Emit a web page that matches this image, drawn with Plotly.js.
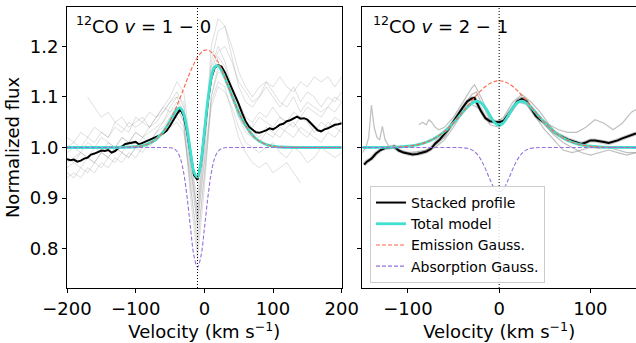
<!DOCTYPE html>
<html>
<head>
<meta charset="utf-8">
<script src="https://cdn.plot.ly/plotly-3.0.1.min.js"></script>
<style>html,body{margin:0;padding:0;background:#fff;}#chart{width:636px;height:343px;}</style>
</head>
<body>
<div id="chart"></div>
<script>
// ---------- Left panel: 12CO v=1-0 ----------
const vSysLeft = -10;
const vModelLeft = [-200,-100,-90,-80,-75,-70,-65,-60,-55,-50,-45,-40,-35,-30,-25,-20,-15,-10,-5,0,5,10,15,20,25,30,35,40,45,50,55,60,65,70,75,80,90,100,110,200];
const emissionLeft = [1.0,1.0015,1.0036,1.0082,1.0118,1.0167,1.0231,1.0312,1.0412,1.0531,1.0670,1.0826,1.0995,1.1171,1.1347,1.1514,1.1663,1.1786,1.1874,1.1922,1.1927,1.1887,1.1806,1.1690,1.1545,1.1381,1.1206,1.1029,1.0859,1.0700,1.0558,1.0434,1.0330,1.0246,1.0179,1.0127,1.0060,1.0026,1.0010,1.0];
const absorptionLeft = [1.0,1.0,1.0,1.0,1.0,1.0,1.0,1.0,1.0,0.9995,0.9979,0.9926,0.9786,0.9491,0.9002,0.8387,0.7848,0.763,0.7848,0.8387,0.9002,0.9491,0.9786,0.9926,0.9979,0.9995,1.0,1.0,1.0,1.0,1.0,1.0,1.0,1.0,1.0,1.0,1.0,1.0,1.0,1.0];
const modelLeft = [1.0,1.0015,1.0036,1.0082,1.0118,1.0167,1.0231,1.0312,1.0411,1.0526,1.0649,1.0752,1.0781,1.0662,1.0349,0.9901,0.9511,0.9416,0.9722,1.0309,1.0929,1.1378,1.1592,1.1616,1.1524,1.1376,1.1205,1.1029,1.0859,1.0700,1.0558,1.0434,1.0330,1.0246,1.0179,1.0127,1.0060,1.0026,1.0010,1.0];

const vStackLeft = [-200,-195,-190,-185,-180,-175,-170,-165,-160,-155,-150,-145,-140,-135,-130,-125,-120,-115,-110,-105,-100,-95,-90,-85,-80,-75,-70,-65,-60,-55,-50,-45,-40,-35,-30,-25,-20,-15,-10,-5,0,5,10,15,20,25,30,35,40,45,50,55,60,65,70,75,80,85,90,95,100,105,110,115,120,125,130,135,140,145,150,155,160,165,170,175,180,185,190,195,200];
const fluxStackLeft = [0.977,0.975,0.976,0.972,0.974,0.978,0.980,0.986,0.988,0.991,0.994,0.993,0.995,0.990,0.993,0.999,1.002,1.007,1.008,1.010,1.011,1.006,1.009,1.011,1.014,1.017,1.020,1.024,1.028,1.033,1.043,1.055,1.066,1.076,1.062,1.030,0.985,0.946,0.936,0.968,1.028,1.090,1.136,1.158,1.163,1.160,1.148,1.133,1.118,1.104,1.086,1.068,1.052,1.041,1.035,1.030,1.029,1.031,1.034,1.038,1.036,1.040,1.045,1.047,1.052,1.054,1.058,1.061,1.057,1.058,1.055,1.048,1.040,1.034,1.032,1.036,1.038,1.042,1.045,1.046,1.048];

const vGreyLeft = [-200,-190,-180,-170,-160,-150,-140,-130,-120,-110,-100,-90,-80,-70,-60,-50,-40,-30,-20,-10,0,10,20,30,40,50,60,70,80,90,100,110,120,130,140,150,160,170,180,190,200];
const greyLeft1 = [1.00,1.01,1.00,1.02,1.01,1.03,1.02,1.04,1.03,1.05,1.04,1.05,1.07,1.06,1.08,1.10,1.13,1.11,1.00,0.86,1.00,1.20,1.255,1.24,1.20,1.15,1.12,1.10,1.12,1.13,1.12,1.14,1.12,1.11,1.13,1.12,1.14,1.13,1.14,1.12,1.14];
const greyLeft2 = [0.97,0.98,0.99,0.98,1.00,0.99,1.01,1.00,1.02,1.01,1.03,1.02,1.04,1.05,1.07,1.09,1.10,1.09,0.97,0.84,0.98,1.17,1.23,1.24,1.18,1.12,1.09,1.08,1.10,1.13,1.11,1.09,1.08,1.10,1.07,1.09,1.08,1.07,1.08,1.10,1.09];
const greyLeft3 = [0.96,0.97,0.96,0.98,0.97,0.99,0.98,1.00,0.99,1.01,1.00,1.02,1.01,1.03,1.04,1.06,1.08,1.05,0.93,0.80,0.95,1.10,1.15,1.14,1.10,1.06,1.04,1.03,1.02,1.04,1.03,1.02,1.04,1.05,1.03,1.02,1.04,1.03,1.05,1.04,1.03];
const greyLeft4 = [0.95,0.94,0.96,0.95,0.97,0.96,0.98,0.97,0.99,0.98,1.00,0.99,1.01,1.02,1.03,1.05,1.06,1.04,0.92,0.82,0.94,1.08,1.12,1.11,1.08,1.04,1.01,1.00,0.99,1.00,1.01,0.99,0.98,1.00,0.99,0.97,0.98,1.00,0.99,0.98,0.99];
const greyLeft5 = [1.02,1.01,1.03,1.02,1.04,1.03,1.02,1.05,1.04,1.03,1.06,1.05,1.04,1.06,1.08,1.07,1.09,1.06,0.95,0.88,1.02,1.16,1.20,1.17,1.12,1.09,1.06,1.05,1.07,1.06,1.08,1.06,1.05,1.07,1.06,1.08,1.07,1.06,1.08,1.07,1.09];
const greyLeft6 = [0.98,0.97,0.99,0.98,0.97,0.99,0.98,1.00,0.99,0.98,1.00,1.01,1.00,1.02,1.03,1.04,1.05,1.03,0.94,0.85,0.97,1.09,1.13,1.12,1.07,1.02,0.99,0.97,0.96,0.97,0.95,0.96,0.97,0.95,0.93,null,null,null,null,null,null];
const greyLeft7 = [null,null,null,1.10,1.08,1.06,1.07,1.05,1.06,1.04,1.05,1.06,1.04,1.06,1.07,1.09,1.11,1.08,0.96,0.87,1.00,1.14,1.18,1.16,1.11,1.07,1.05,1.04,1.06,1.05,1.04,1.06,1.05,1.04,1.06,1.05,1.03,1.05,1.04,1.06,1.05];
const greyLeft8 = [0.99,1.00,0.99,1.01,1.00,1.02,1.01,1.00,1.02,1.01,1.03,1.02,1.03,1.04,1.05,1.07,1.08,1.05,0.90,0.78,0.92,1.10,1.16,1.15,1.10,1.06,1.03,1.02,1.01,1.03,1.02,1.04,1.03,1.02,1.04,1.03,1.02,1.01,1.03,1.02,1.04];
const greyLeft9 = [0.94,0.95,0.94,0.96,0.95,0.97,0.96,0.98,0.97,0.99,0.98,1.00,1.01,1.03,1.05,1.08,1.10,1.07,0.97,0.90,1.04,1.15,1.19,1.20,1.17,1.13,1.11,1.09,1.10,1.12,1.10,1.08,1.10,1.12,1.09,1.11,1.10,1.08,1.10,1.09,1.11];

// ---------- Right panel: 12CO v=2-1 ----------
const vSysRight = 0;
const vModelRight = [-150,-130,-120,-110,-100,-90,-80,-70,-60,-50,-45,-40,-35,-30,-25,-20,-15,-10,-5,0,5,10,15,20,25,30,35,40,45,50,60,70,80,90,100,110,120,130,150];
const emissionRight = [1.0,1.0001,1.0004,1.0011,1.0025,1.0053,1.0104,1.0189,1.0316,1.0489,1.0591,1.0700,1.0812,1.0924,1.1030,1.1126,1.1207,1.1269,1.1307,1.132,1.1307,1.1269,1.1207,1.1126,1.1030,1.0924,1.0812,1.0700,1.0591,1.0489,1.0316,1.0189,1.0104,1.0053,1.0025,1.0011,1.0004,1.0001,1.0];
const absorptionRight = [1.0,1.0,1.0,1.0,1.0,1.0,1.0,1.0,1.0,1.0,0.9999,0.9995,0.9984,0.9953,0.9885,0.9760,0.9577,0.9364,0.9189,0.912,0.9189,0.9364,0.9577,0.9760,0.9885,0.9953,0.9984,0.9995,0.9999,1.0,1.0,1.0,1.0,1.0,1.0,1.0,1.0,1.0,1.0];
const modelRight = [1.0,1.0001,1.0004,1.0011,1.0025,1.0053,1.0104,1.0189,1.0316,1.0489,1.0590,1.0695,1.0796,1.0877,1.0915,1.0886,1.0784,1.0633,1.0496,1.044,1.0496,1.0633,1.0784,1.0886,1.0915,1.0877,1.0796,1.0695,1.0590,1.0489,1.0316,1.0189,1.0104,1.0053,1.0025,1.0011,1.0004,1.0001,1.0];

const vStackRight = [-148,-145,-140,-135,-130,-125,-120,-115,-110,-105,-100,-95,-90,-85,-80,-75,-70,-65,-60,-55,-50,-45,-40,-35,-30,-27,-25,-20,-15,-10,-5,0,5,10,15,20,25,30,35,40,45,50,55,60,65,70,75,80,85,90,95,100,105,110,115,120,125,130,135,140,145,150];
const fluxStackRight = [0.966,0.972,0.978,0.988,0.995,0.999,1.000,1.002,0.994,0.990,0.988,0.986,0.987,0.989,0.992,0.997,1.008,1.016,1.026,1.038,1.052,1.066,1.079,1.091,1.097,1.098,1.090,1.072,1.058,1.052,1.051,1.050,1.053,1.065,1.079,1.091,1.096,1.091,1.078,1.063,1.055,1.049,1.040,1.031,1.025,1.020,1.016,1.013,1.010,1.007,1.010,1.014,1.014,1.013,1.011,1.009,1.011,1.014,1.018,1.021,1.025,1.028];

const vGreyRight1 = [-150,-146,-143,-140,-137,-134,-131,-128,-125,-120,-110,-100,-90,-80,-70,-60,-50,-40,-30,-25,-20,-10,0,10,20,25,30,40,50,60,70,80,90,100,110,120,130,140,150];
const greyRight1 = [0.99,1.00,1.02,1.084,1.04,1.02,1.015,1.042,1.015,1.00,0.995,0.99,0.992,0.995,1.005,1.02,1.05,1.08,1.105,1.11,1.09,1.055,1.045,1.065,1.095,1.10,1.095,1.065,1.045,1.025,1.01,1.0,0.99,0.985,0.99,0.995,0.99,0.985,0.99];
const vGreyRight2 = [-88,-84,-80,-77,-74,-70,-66,-60,-50,-40,-30,-27,-20,-10,-3,5,15,25,35,45,55,65,75,85,95,105,115,125,135,145,150];
const greyRight2 = [1.045,1.05,1.045,1.055,1.05,1.04,1.035,1.04,1.06,1.09,1.118,1.124,1.10,1.06,1.05,1.06,1.09,1.105,1.09,1.07,1.045,1.035,1.03,1.03,1.04,1.055,1.048,1.035,1.048,1.07,1.075];
const vGreyRight3 = [-80,-70,-60,-50,-40,-30,-20,-10,0,10,20,30,40,50,60,70,80,90,100,110,120,130,140,150];
const greyRight3 = [0.995,1.0,1.015,1.04,1.07,1.085,1.075,1.045,1.04,1.06,1.09,1.085,1.06,1.035,1.015,0.995,0.99,0.995,1.0,0.998,1.0,0.995,0.99,0.99];

const yTicks = [0.8,0.9,1.0,1.1,1.2];
const xTicksLeft = [-200,-100,0,100,200];
const xTicksRight = [-100,0,100];

// ---------- styles ----------
const C_STACK = 'black', C_MODEL = '#40E0D0', C_EM = '#FF6347', C_AB = '#9370DB';
const greyL = {color:'rgba(140,140,140,0.28)', width:1};
const greyR = {color:'rgba(140,140,140,0.55)', width:1.2};
const traces = [];
[greyLeft1,greyLeft2,greyLeft3,greyLeft4,greyLeft5,greyLeft6,greyLeft7,greyLeft8,greyLeft9].forEach(g=>{
  traces.push({x:vGreyLeft, y:g, xaxis:'x', yaxis:'y', mode:'lines', line:greyL, showlegend:false, hoverinfo:'skip', connectgaps:false});
});
traces.push({x:vStackLeft, y:fluxStackLeft, xaxis:'x', yaxis:'y', mode:'lines', line:{color:C_STACK, width:2}, name:'Stacked profile'});
traces.push({x:vModelLeft, y:modelLeft, xaxis:'x', yaxis:'y', mode:'lines', line:{color:C_MODEL, width:2.8, shape:'spline', smoothing:1}, name:'Total model'});
traces.push({x:vModelLeft, y:emissionLeft, xaxis:'x', yaxis:'y', mode:'lines', line:{color:C_EM, width:1.1, dash:'4px,2px', shape:'spline', smoothing:1}, name:'Emission Gauss.'});
traces.push({x:vModelLeft, y:absorptionLeft, xaxis:'x', yaxis:'y', mode:'lines', line:{color:C_AB, width:1.1, dash:'4px,2px', shape:'spline', smoothing:1}, name:'Absorption Gauss.'});

[[vGreyRight1,greyRight1],[vGreyRight2,greyRight2],[vGreyRight3,greyRight3]].forEach(p=>{
  traces.push({x:p[0], y:p[1], xaxis:'x2', yaxis:'y2', mode:'lines', line:greyR, showlegend:false, hoverinfo:'skip'});
});
traces.push({x:vStackRight, y:fluxStackRight, xaxis:'x2', yaxis:'y2', mode:'lines', line:{color:'rgba(120,120,120,0.4)', width:4}, showlegend:false});
traces.push({x:vStackRight, y:fluxStackRight, xaxis:'x2', yaxis:'y2', mode:'lines', line:{color:C_STACK, width:2}, showlegend:false});
traces.push({x:vModelRight, y:modelRight, xaxis:'x2', yaxis:'y2', mode:'lines', line:{color:C_MODEL, width:2.8, shape:'spline', smoothing:1}, showlegend:false});
traces.push({x:vModelRight, y:emissionRight, xaxis:'x2', yaxis:'y2', mode:'lines', line:{color:C_EM, width:1.1, dash:'4px,2px', shape:'spline', smoothing:1}, showlegend:false});
traces.push({x:vModelRight, y:absorptionRight, xaxis:'x2', yaxis:'y2', mode:'lines', line:{color:C_AB, width:1.1, dash:'4px,2px', shape:'spline', smoothing:1}, showlegend:false});

const axCommon = {showline:true, mirror:true, linecolor:'black', linewidth:1, ticks:'outside', ticklen:4, tickcolor:'black', showgrid:false, zeroline:false, tickfont:{size:18}};
const layout = {
  width:636, height:343,
  margin:{l:67, r:0, t:7, b:55},
  paper_bgcolor:'white', plot_bgcolor:'white',
  font:{family:'DejaVu Sans, sans-serif', color:'black', size:18},
  xaxis:Object.assign({}, axCommon, {domain:[0,0.4828], range:[-200,200], tickvals:xTicksLeft, anchor:'y', title:{text:'Velocity (km s<sup>−1</sup>)', font:{size:18}, standoff:3}}),
  yaxis:Object.assign({}, axCommon, {domain:[0,1], range:[0.722,1.278], tickvals:yTicks, tickformat:'.1f', anchor:'x', title:{text:'Normalized flux', font:{size:18}, standoff:5}}),
  xaxis2:Object.assign({}, axCommon, {domain:[0.519,1], range:[-150,150], tickvals:xTicksRight, anchor:'y2', title:{text:'Velocity (km s<sup>−1</sup>)', font:{size:18}, standoff:3}}),
  yaxis2:Object.assign({}, axCommon, {domain:[0,1], range:[0.722,1.278], tickvals:yTicks, showticklabels:false, anchor:'x2'}),
  shapes:[
    {type:'line', xref:'x', yref:'y domain', x0:vSysLeft, x1:vSysLeft, y0:0, y1:1, line:{color:'black', width:1, dash:'1px,2px'}},
    {type:'line', xref:'x2', yref:'y2 domain', x0:vSysRight, x1:vSysRight, y0:0, y1:1, line:{color:'black', width:1, dash:'1px,2px'}}
  ],
  annotations:[
    {xref:'x domain', yref:'y domain', x:0.025, y:0.985, xanchor:'left', yanchor:'top', showarrow:false, text:'<sup>12</sup>CO <i>v</i> = 1 − 0', font:{size:18}},
    {xref:'x2 domain', yref:'y2 domain', x:0.03, y:0.985, xanchor:'left', yanchor:'top', showarrow:false, text:'<sup>12</sup>CO <i>v</i> = 2 − 1', font:{size:18}}
  ],
  legend:{x:0.5325, y:0.018, xanchor:'left', yanchor:'bottom', bgcolor:'rgba(255,255,255,0.85)', bordercolor:'#cccccc', borderwidth:1, font:{size:14}, itemwidth:30, tracegroupgap:0}
};
Plotly.newPlot('chart', traces, layout, {displayModeBar:false, staticPlot:true});
</script>
</body>
</html>
